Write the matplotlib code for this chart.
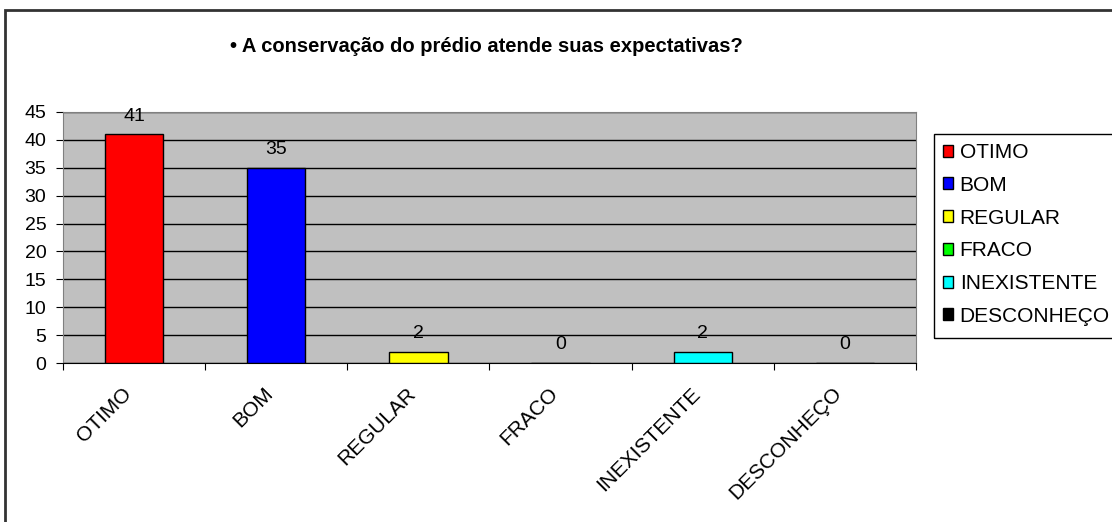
import matplotlib
matplotlib.use("Agg")
import matplotlib.pyplot as plt
from matplotlib.patches import Rectangle, Patch

categories = ['OTIMO', 'BOM', 'REGULAR', 'FRACO', 'INEXISTENTE', 'DESCONHEÇO']
values = [41, 35, 2, 0, 2, 0]
colors = ['#FF0000', '#0000FF', '#FFFF00', '#00FF00', '#00FFFF', '#000000']
title = '• A conservação do prédio atende suas expectativas?'

plt.rcParams['font.family'] = ['Liberation Sans', 'DejaVu Sans']

W, H = 1112, 522
fig = plt.figure(figsize=(W / 100, H / 100), dpi=100)
ax = fig.add_axes([63/W, 1-363/H, (916-63)/W, (363-112)/H])
ax.set_facecolor('#C0C0C0')

x = list(range(len(categories)))
ax.bar(x, values, width=0.41, color=colors, edgecolor='black', linewidth=1, zorder=3)
for xi, v in zip(x, values):
    ax.annotate(str(v), (xi, v), xytext=(0, 7), textcoords='offset points',
                ha='center', va='bottom', fontsize=14, zorder=4)

ax.set_xlim(-0.5, len(categories) - 0.5)
ax.set_ylim(0, 45)
ax.set_yticks(range(0, 46, 5))
ax.yaxis.grid(True, color='black', linewidth=1, zorder=1)
ax.set_axisbelow(True)

ax.set_xticks([i - 0.5 for i in range(len(categories) + 1)])
ax.set_xticklabels([])
ax.tick_params(axis='x', length=5, color='black')
ax.tick_params(axis='y', length=5, labelsize=14, pad=7)
for xi, lab in zip(x, categories):
    ax.annotate(lab, (xi, 0), xycoords=('data', 'axes fraction'), xytext=(-9, -15),
                textcoords='offset points', rotation=45, rotation_mode='anchor',
                ha='right', va='top', fontsize=15)

for side in ['top', 'right', 'left']:
    ax.spines[side].set_color('#808080')
ax.spines['bottom'].set_color('black')

fig.text(486/W, 1-46/H, title, ha='center', va='center', fontsize=14.5, fontweight='bold')

handles = [Patch(facecolor=c, edgecolor='black', label=l) for c, l in zip(colors, categories)]
leg = fig.legend(handles=handles, loc='upper left', bbox_to_anchor=(943/W, 1-143/H),
                 frameon=False, fontsize=15,
                 handlelength=0.5, handleheight=0.5, handletextpad=0.3,
                 labelspacing=0.66, borderpad=0, borderaxespad=0)
fig.patches.append(Rectangle((934/W, 1-338/H), 0.3, (338-134)/H, transform=fig.transFigure,
                             fill=False, edgecolor='black', linewidth=1))

fig.patches.append(Rectangle((5/W, -0.1), 1.2, 1 - 10/H + 0.1, transform=fig.transFigure,
                             fill=False, edgecolor='#333333', linewidth=2))

fig.savefig('out.png', dpi=100)
